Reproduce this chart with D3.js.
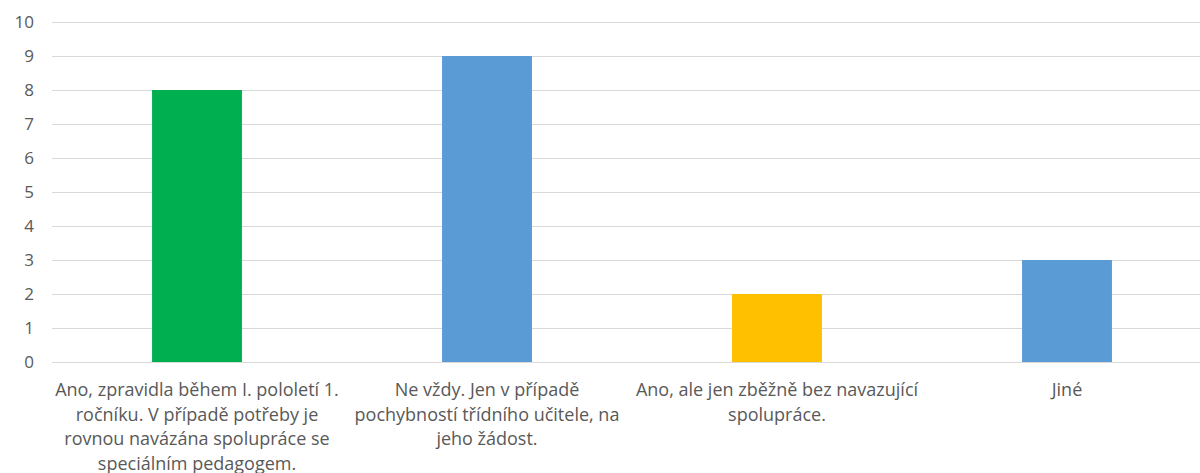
<!DOCTYPE html>
<html>
<head>
<meta charset="utf-8">
<script src="https://cdn.jsdelivr.net/npm/d3@7"></script>
<style>
  body { margin: 0; background: #fff; }
  svg { display: block; font-family: "Open Sans", "Noto Sans", sans-serif; }
</style>
</head>
<body>
<svg id="chart" width="1200" height="473"></svg>
<script>
// categories, already broken into lines as in the original
const categories = [
  ['Ano, zpravidla během I. pololetí 1.', 'ročníku. V případě potřeby je', 'rovnou navázána spolupráce se', 'speciálním pedagogem.'],
  ['Ne vždy. Jen v případě', 'pochybností třídního učitele, na', 'jeho žádost.'],
  ['Ano, ale jen zběžně bez navazující', 'spolupráce.'],
  ['Jiné']
];
const values = [8, 9, 2, 3];
const barColors = ['#00B050', '#5B9BD5', '#FFC000', '#5B9BD5'];
const yTicks = [0, 1, 2, 3, 4, 5, 6, 7, 8, 9, 10];

const svg = d3.select('#chart');
const margin = { top: 22, left: 52, bottom: 111 };
const plotW = 1160;
const plotH = 473 - margin.top - margin.bottom;

const x = d3.scaleBand()
  .domain(d3.range(values.length))
  .range([margin.left, margin.left + plotW])
  .paddingInner(0.69)
  .paddingOuter(0.345);

const y = d3.scaleLinear()
  .domain([0, 10])
  .range([margin.top + plotH, margin.top]);

// gridlines
svg.append('g')
  .selectAll('line')
  .data(yTicks)
  .join('line')
  .attr('x1', margin.left)
  .attr('x2', margin.left + plotW)
  .attr('y1', d => Math.round(y(d)) + 0.5)
  .attr('y2', d => Math.round(y(d)) + 0.5)
  .attr('stroke', '#d9d9d9')
  .attr('stroke-width', 1);

// y axis labels
const yAxis = d3.axisLeft(y).tickValues(yTicks).tickSize(0).tickPadding(0);
svg.append('g')
  .attr('transform', `translate(${margin.left - 18},0)`)
  .call(yAxis)
  .call(g => g.select('.domain').remove())
  .call(g => g.selectAll('text')
    .attr('fill', '#595959')
    .style('font-size', '17px')
    .style('font-family', '"Open Sans", sans-serif'));

// bars
svg.append('g')
  .selectAll('rect')
  .data(values)
  .join('rect')
  .attr('x', (d, i) => x(i))
  .attr('width', x.bandwidth())
  .attr('y', d => y(d))
  .attr('height', d => y(0) - y(d))
  .attr('fill', (d, i) => barColors[i]);

// category labels
const labels = svg.append('g')
  .selectAll('text')
  .data(categories)
  .join('text')
  .attr('text-anchor', 'middle')
  .attr('fill', '#595959')
  .style('font-size', '18px');

labels.selectAll('tspan')
  .data((d, i) => d.map(line => ({ line, i })))
  .join('tspan')
  .attr('x', d => x(d.i) + x.bandwidth() / 2)
  .attr('y', (d, j) => 396 + j * 24.5)
  .text(d => d.line);
</script>
</body>
</html>
